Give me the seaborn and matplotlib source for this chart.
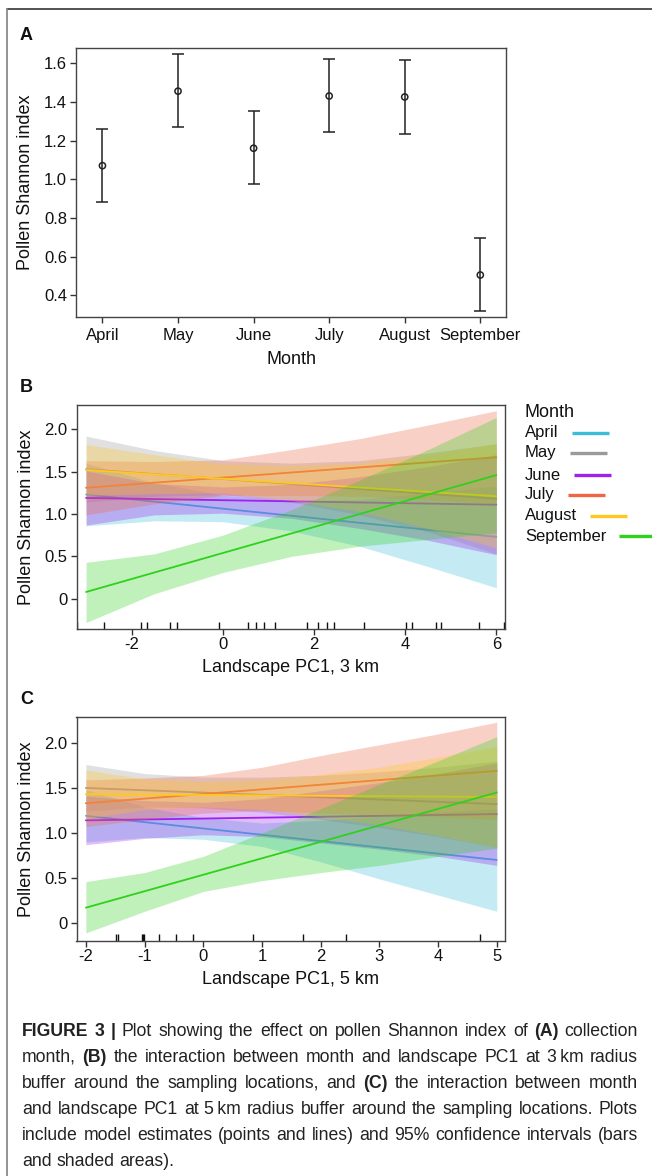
import matplotlib
matplotlib.use("Agg")
import numpy as np
import pandas as pd
import matplotlib.pyplot as plt
import seaborn as sns
from matplotlib.lines import Line2D

# ---------------- data ----------------
months = ["April", "May", "June", "July", "August", "September"]
colors = ["#3CBCD8", "#9A9A9A", "#A020F0", "#EE6642", "#FFC820", "#2FD11C"]

# Panel A: estimates and 95% CI
est_a = [1.07, 1.455, 1.16, 1.43, 1.425, 0.505]
lo_a = [0.88, 1.27, 0.975, 1.245, 1.235, 0.32]
hi_a = [1.26, 1.645, 1.35, 1.62, 1.615, 0.695]

# Panel B: landscape PC1 at 3 km
b_line_x = [-3, 6]
b_line_start = [1.23, 1.53, 1.19, 1.31, 1.52, 0.08]
b_line_end = [0.73, 1.18, 1.11, 1.67, 1.21, 1.46]
b_band_x = [-3, -1.5, 0, 1.5, 3, 4.5, 6]
b_lower = [
    [0.86, 0.92, 0.91, 0.80, 0.62, 0.38, 0.13],
    [1.14, 1.21, 1.23, 1.14, 0.99, 0.79, 0.53],
    [0.87, 0.99, 1.01, 0.95, 0.83, 0.69, 0.52],
    [0.99, 1.12, 1.22, 1.22, 1.21, 1.17, 1.12],
    [1.22, 1.24, 1.25, 1.16, 1.03, 0.83, 0.60],
    [-0.28, 0.06, 0.31, 0.50, 0.62, 0.70, 0.78],
]
b_upper = [
    [1.60, 1.37, 1.22, 1.16, 1.17, 1.25, 1.33],
    [1.92, 1.75, 1.63, 1.60, 1.63, 1.72, 1.83],
    [1.51, 1.36, 1.32, 1.35, 1.44, 1.56, 1.70],
    [1.63, 1.62, 1.64, 1.76, 1.89, 2.05, 2.22],
    [1.82, 1.70, 1.59, 1.57, 1.60, 1.70, 1.83],
    [0.43, 0.53, 0.75, 1.05, 1.40, 1.76, 2.14],
]
rug_b = [-3.19, -2.60, -1.80, -1.67, -1.16, -1.01, -0.09, 0.56, 0.72, 0.90,
         1.15, 1.85, 2.09, 2.29, 2.44, 3.09, 4.01, 4.16, 4.67, 4.79, 5.61, 6.17]

# Panel C: landscape PC1 at 5 km
c_line_x = [-2, 5]
c_line_start = [1.19, 1.50, 1.14, 1.33, 1.43, 0.17]
c_line_end = [0.70, 1.32, 1.21, 1.69, 1.40, 1.45]
c_band_x = [-2, -1, 0, 1, 2, 3, 4, 5]
c_lower = [
    [0.90, 0.95, 0.93, 0.85, 0.68, 0.49, 0.31, 0.13],
    [1.24, 1.29, 1.28, 1.23, 1.15, 1.06, 0.96, 0.84],
    [0.87, 0.94, 0.98, 0.96, 0.89, 0.82, 0.74, 0.64],
    [1.07, 1.15, 1.22, 1.25, 1.22, 1.20, 1.18, 1.15],
    [1.16, 1.26, 1.29, 1.26, 1.18, 1.09, 0.97, 0.84],
    [-0.11, 0.13, 0.35, 0.47, 0.56, 0.64, 0.74, 0.83],
]
c_upper = [
    [1.48, 1.29, 1.17, 1.11, 1.14, 1.19, 1.23, 1.27],
    [1.76, 1.66, 1.62, 1.62, 1.64, 1.68, 1.73, 1.80],
    [1.41, 1.36, 1.34, 1.38, 1.47, 1.56, 1.66, 1.78],
    [1.59, 1.61, 1.64, 1.73, 1.86, 1.98, 2.10, 2.23],
    [1.70, 1.60, 1.57, 1.59, 1.65, 1.73, 1.84, 1.96],
    [0.46, 0.56, 0.74, 1.00, 1.27, 1.54, 1.80, 2.07],
]
rug_c = [-1.49, -1.46, -1.04, -1.02, -1.006, -0.75, -0.47, -0.18, 0.84, 1.70, 2.43, 4.72]

# ---------------- style ----------------
sns.set_theme(style="ticks")
FAM = ["Liberation Sans", "DejaVu Sans"]
plt.rcParams["font.family"] = FAM
plt.rcParams.update({
    "axes.edgecolor": "#444444",
    "axes.linewidth": 1.0,
    "xtick.color": "#333333",
    "ytick.color": "#333333",
    "xtick.labelcolor": "#111111",
    "ytick.labelcolor": "#111111",
    "axes.labelcolor": "#111111",
    "text.color": "#111111",
})

W, H = 652, 1176
fig = plt.figure(figsize=(W / 100, H / 100), dpi=100)
fig.patch.set_facecolor("white")


def axes_px(l, t, r, b):
    return fig.add_axes([l / W, 1 - b / H, (r - l) / W, (b - t) / H])


def style_axes(ax, xpad):
    ax.tick_params(axis="both", direction="out", length=4.5, width=1.0, labelsize=12)
    ax.tick_params(axis="x", pad=xpad)
    ax.tick_params(axis="y", pad=2)
    for s in ax.spines.values():
        s.set_visible(True)
        s.set_color("#444444")
        s.set_linewidth(1.0)
        s.set_zorder(20)
    ax.set_facecolor("white")
    ax.grid(False)


# ---------------- panel A ----------------
axA = axes_px(76, 48, 506, 317)
dfA = pd.DataFrame({"Month": months, "pos": np.arange(len(months)), "est": est_a,
                    "lo": lo_a, "hi": hi_a})
axA.errorbar(dfA["pos"], dfA["est"],
             yerr=[dfA["est"] - dfA["lo"], dfA["hi"] - dfA["est"]],
             fmt="none", ecolor="#222222", elinewidth=1.1, capsize=4, capthick=1.1, zorder=2)
sns.scatterplot(data=dfA, x="pos", y="est", marker="o", s=20, color="#222222",
                edgecolor="#222222", linewidth=1.1, ax=axA, zorder=3)
axA.collections[-1].set_facecolor("none")
axA.set_xticks(range(len(months)))
axA.set_xticklabels(months)
axA.set_yticks([0.4, 0.6, 0.8, 1.0, 1.2, 1.4, 1.6])
axA.set_yticklabels(["0.4", "0.6", "0.8", "1.0", "1.2", "1.4", "1.6"])
axA.set_xlim(-0.35, 5.34)
axA.set_ylim(0.288, 1.678)
style_axes(axA, 3.4)
axA.set_xlabel("Month", fontsize=13)
axA.set_ylabel("Pollen Shannon index", fontsize=13)


# ---------------- panels B and C ----------------
def draw_effect(ax, band_x, lower, upper, line_x, l_start, l_end, rug):
    for i, m in enumerate(months):
        ax.fill_between(band_x, lower[i], upper[i], color=colors[i], alpha=0.3,
                        linewidth=0, zorder=2 * i + 1)
        sns.lineplot(x=line_x, y=[l_start[i], l_end[i]], color=colors[i],
                     linewidth=1.3, ax=ax, zorder=2 * i + 2)
    sns.rugplot(x=rug, ax=ax, height=0.032, color="#111111", linewidth=1.0,
                expand_margins=False, zorder=15)


axB = axes_px(76.5, 405, 505, 629)
draw_effect(axB, b_band_x, b_lower, b_upper, b_line_x, b_line_start, b_line_end, rug_b)
axB.set_xlim(-3.21, 6.19)
axB.set_ylim(-0.357, 2.287)
axB.set_xticks([-2, 0, 2, 4, 6])
axB.set_xticklabels(["-2", "0", "2", "4", "6"])
axB.set_yticks([0, 0.5, 1.0, 1.5, 2.0])
axB.set_yticklabels(["0", "0.5", "1.0", "1.5", "2.0"])
style_axes(axB, 1.5)
axB.set_xlabel("Landscape PC1, 3 km", fontsize=13)
axB.set_ylabel("Pollen Shannon index", fontsize=13)

axC = axes_px(76.5, 717, 505, 941)
draw_effect(axC, c_band_x, c_lower, c_upper, c_line_x, c_line_start, c_line_end, rug_c)
axC.set_xlim(-2.16, 5.14)
axC.set_ylim(-0.20, 2.288)
axC.set_xticks([-2, -1, 0, 1, 2, 3, 4, 5])
axC.set_xticklabels(["-2", "-1", "0", "1", "2", "3", "4", "5"])
axC.set_yticks([0, 0.5, 1.0, 1.5, 2.0])
axC.set_yticklabels(["0", "0.5", "1.0", "1.5", "2.0"])
style_axes(axC, 1.5)
axC.set_xlabel("Landscape PC1, 5 km", fontsize=13)
axC.set_ylabel("Pollen Shannon index", fontsize=13)

# label positions (centres, in px from top)
for ax, top, bot, xlab_c in [(axA, 48, 317, 360), (axB, 405, 629, 668), (axC, 717, 941, 980)]:
    hgt = bot - top
    ax.xaxis.label.set_va("center")
    ax.xaxis.set_label_coords(0.5, -(xlab_c - bot) / hgt)
    ax.yaxis.label.set_va("center")
    ax.yaxis.set_label_coords(-(76 - 26) / 430, 0.5)

# panel letters
for letter, yc in [("A", 36), ("B", 388), ("C", 699)]:
    fig.text(20 / W, 1 - yc / H, letter, fontsize=13, fontweight="bold", va="center", ha="left")

# page frame
fig.add_artist(Line2D([7 / W, 1], [1 - 8.7 / H, 1 - 8.7 / H], transform=fig.transFigure,
                      color="#444444", linewidth=1.3))
fig.add_artist(Line2D([7.3 / W, 7.3 / W], [0, 1 - 8.7 / H], transform=fig.transFigure,
                      color="#8a8a8a", linewidth=1.3))

renderer = fig.canvas.get_renderer()

# legend for panel B (title + labels followed by line keys)
fig.text(525 / W, 1 - 412 / H, "Month", fontsize=13, va="center", ha="left")
leg_y = [433, 453, 475, 495, 516, 536]
for i, m in enumerate(months):
    t = fig.text(525 / W, 1 - leg_y[i] / H, m, fontsize=12, va="center", ha="left")
    bb = t.get_window_extent(renderer)
    x0 = bb.x1 + 13
    fig.add_artist(Line2D([x0 / W, (x0 + 37) / W], [1 - leg_y[i] / H] * 2,
                          transform=fig.transFigure, color=colors[i], linewidth=2.4,
                          solid_capstyle="butt"))

# caption
cap_runs = [
    [("FIGURE 3 |", True), ("Plot showing the effect on pollen Shannon index of", False),
     ("(A)", True), ("collection", False)],
    [("month,", False), ("(B)", True),
     ("the interaction between month and landscape PC1 at 3\u2009km radius", False)],
    [("buffer around the sampling locations, and", False), ("(C)", True),
     ("the interaction between month", False)],
    [("and landscape PC1 at 5\u2009km radius buffer around the sampling locations. Plots", False)],
    [("include model estimates (points and lines) and 95% confidence intervals (bars", False)],
    [("and shaded areas).", False)],
]
cap_words = []
for runs in cap_runs:
    words = []
    for txt, bold in runs:
        for w in txt.split(" "):
            words.append((w, bold))
    cap_words.append(words)


def word_w(w, bold, size):
    t = fig.text(0, 0, w, fontsize=size, fontweight="bold" if bold else "normal")
    wd = t.get_window_extent(renderer).width
    t.remove()
    return wd


x_left, x_right = 22, 638
base_size = 11.0
nat = []
for words in cap_words[:5]:
    tot = sum(word_w(w, b, base_size) for w, b in words)
    tot += 0.278 * base_size * 100 / 72 * (len(words) - 1)
    nat.append(tot)
cap_size = base_size * (x_right - x_left) / max(nat) * 0.985

baselines = [1036, 1062, 1088, 1114, 1140, 1166]
for li, words in enumerate(cap_words):
    widths = [word_w(w, b, cap_size) for w, b in words]
    if li < 5 and len(words) > 1:
        gap = ((x_right - x_left) - sum(widths)) / (len(words) - 1)
    else:
        gap = 0.278 * cap_size * 100 / 72
    x = x_left
    for (w, b), wd in zip(words, widths):
        fig.text(x / W, 1 - baselines[li] / H, w, fontsize=cap_size,
                 fontweight="bold" if b else "normal", va="baseline", ha="left",
                 color="#222222")
        x += wd + gap

fig.savefig("out.png", dpi=100, facecolor="white")
